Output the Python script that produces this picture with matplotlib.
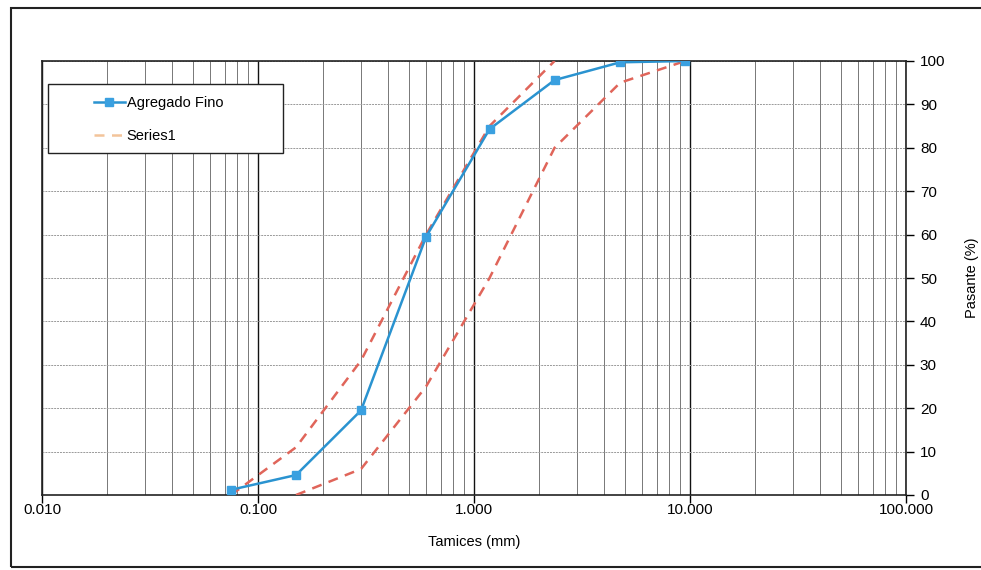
import matplotlib
matplotlib.use("Agg")
import matplotlib.pyplot as plt
from matplotlib.ticker import FixedLocator, FixedFormatter, LogLocator, NullFormatter
from matplotlib.patches import Rectangle

plt.rcParams['font.family'] = ['Liberation Sans', 'DejaVu Sans']

# Data
sieve = [0.075, 0.15, 0.3, 0.6, 1.18, 2.36, 4.75, 9.5]
agregado_fino = [1.2, 4.6, 19.5, 59.5, 84.3, 95.6, 99.7, 100]
upper_sieve = [0.075, 0.15, 0.3, 0.6, 1.18, 2.36]
upper_limit = [0, 11, 31, 60, 85, 100]
lower_sieve = [0.15, 0.3, 0.6, 1.18, 2.36, 4.75, 9.5]
lower_limit = [0, 6, 25, 50, 80, 95, 100]
x_ticks = [0.01, 0.1, 1, 10, 100]
x_labels = ["0.010", "0.100", "1.000", "10.000", "100.000"]
y_ticks = [0, 10, 20, 30, 40, 50, 60, 70, 80, 90, 100]

W, H = 981, 570
fig = plt.figure(figsize=(W/100, H/100), dpi=100)
ax = fig.add_axes([42/W, 1-495/H, (906-42)/W, (495-61)/H])

ax.plot(upper_sieve, upper_limit, linestyle=(0, (4, 3)), color='#e0655a', lw=1.8,
        label='Series1', zorder=3)
ax.plot(lower_sieve, lower_limit, linestyle=(0, (4, 3)), color='#e0655a', lw=1.8, zorder=3)
ax.plot(sieve, agregado_fino, '-s', color='#2a93d0', markerfacecolor='#3aa0e0',
        markeredgecolor='#3aa0e0', ms=5.5, lw=1.8, label='Agregado Fino', zorder=4)

ax.set_xscale('log')
ax.set_xlim(0.01, 100)
ax.set_ylim(0, 100)
ax.xaxis.set_major_locator(FixedLocator(x_ticks))
ax.xaxis.set_major_formatter(FixedFormatter(x_labels))
ax.xaxis.set_minor_locator(LogLocator(base=10, subs=range(2, 10)))
ax.xaxis.set_minor_formatter(NullFormatter())
ax.set_yticks(y_ticks)

ax.yaxis.tick_right()
ax.yaxis.set_label_position('right')
ax.tick_params(axis='y', which='major', direction='out', length=6, width=1, labelsize=11, pad=4)
ax.tick_params(axis='x', which='major', direction='out', length=6, width=1, labelsize=11, pad=0)
ax.tick_params(axis='x', which='minor', length=0)

ax.grid(True, which='major', axis='x', color='#111111', lw=1.0)
ax.grid(True, which='minor', axis='x', color='#777777', lw=0.7)
ax.grid(True, which='major', axis='y', color='#999999', lw=0.7, linestyle=(0, (2, 1)))
ax.set_axisbelow(True)

for s in ax.spines.values():
    s.set_color('#222222')
    s.set_linewidth(1.2)

ax.set_xlabel('Tamices (mm)', fontsize=10.5, labelpad=13)
ax.set_ylabel('Pasante (%)', fontsize=10.5, labelpad=14)

# legend frame drawn as a rectangle in pixel-derived axes coords
ax.add_patch(Rectangle(((48-42)/864, (495-153)/434), (283-48)/864, (153-84)/434,
                       transform=ax.transAxes, facecolor='white', edgecolor='#222222',
                       lw=1.0, zorder=5))
handles, labels = ax.get_legend_handles_labels()
leg = ax.legend(handles[::-1], labels[::-1], loc='upper left',
                bbox_to_anchor=((94-42)/864, (495-96)/434), frameon=False,
                fontsize=10.5, borderpad=0, labelspacing=1.3,
                handlelength=2.1, handletextpad=0.15, borderaxespad=0)
leg.set_zorder(6)
leg.get_lines()[1].set_color('#f3c49a')

fig.patches.append(Rectangle((11/W, 1-567/H), 1.2, (567-8)/H,
                             transform=fig.transFigure, fill=False, edgecolor='#222222',
                             lw=1.5, figure=fig))

fig.savefig('out.png', dpi=100)
